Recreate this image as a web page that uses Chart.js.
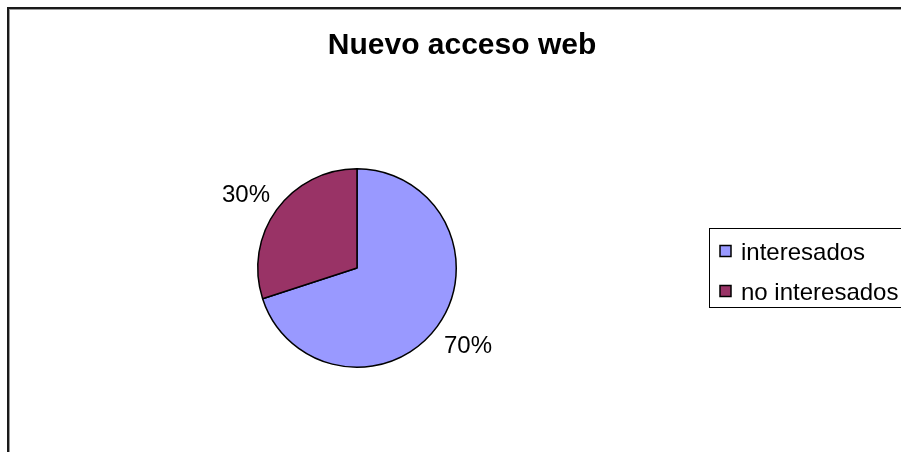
<!DOCTYPE html>
<html>
<head>
<meta charset="utf-8">
<title>Nuevo acceso web</title>
<script src="https://cdn.jsdelivr.net/npm/chart.js@4/dist/chart.umd.min.js"></script>
<style>
    html, body { margin: 0; padding: 0; background: #ffffff; }
    canvas { display: block; }
</style>
</head>
<body>
<canvas id="grafico" width="901" height="452"></canvas>
<script>
// datos de la encuesta
const categorias = ['interesados', 'no interesados'];
const valores = [70, 30];
const colores = ['#9999ff', '#993366'];
const titulo = 'Nuevo acceso web';

const fuente = '"Liberation Sans", Arial, sans-serif';

// marco exterior, título, porcentajes y leyenda con recuadro
const decoracion = {
    id: 'decoracion',
    beforeDraw(chart) {
        const ctx = chart.ctx;
        ctx.save();
        ctx.fillStyle = '#ffffff';
        ctx.fillRect(0, 0, chart.width, chart.height);
        ctx.strokeStyle = '#9a9a9a';
        ctx.lineWidth = 1;
        ctx.strokeRect(9.5, 9.5, 940, 500);
        ctx.strokeStyle = '#1a1a1a';
        ctx.lineWidth = 2;
        ctx.strokeRect(8, 8, 940, 500);
        ctx.restore();
    },
    afterDatasetsDraw(chart) {
        const ctx = chart.ctx;
        const meta = chart.getDatasetMeta(0);
        const total = valores.reduce((a, b) => a + b, 0);
        ctx.save();

        // título
        ctx.fillStyle = '#000000';
        ctx.font = 'bold 30px ' + fuente;
        ctx.textAlign = 'center';
        ctx.textBaseline = 'alphabetic';
        ctx.fillText(titulo, 462, 54);

        // porcentajes fuera de cada sector
        ctx.font = '24px ' + fuente;
        ctx.textBaseline = 'middle';
        meta.data.forEach((arco, i) => {
            const medio = (arco.startAngle + arco.endAngle) / 2;
            const x = arco.x + Math.cos(medio) * (arco.outerRadius + 38);
            const y = arco.y + Math.sin(medio) * (arco.outerRadius + 29);
            const pct = Math.round(valores[i] / total * 100);
            ctx.fillText(pct + '%', x, y + 3);
        });

        // leyenda
        ctx.strokeStyle = '#000000';
        ctx.lineWidth = 1;
        ctx.strokeRect(709.5, 228.5, 220, 79);
        ctx.textAlign = 'left';
        categorias.forEach((nombre, i) => {
            const y = 251.5 + i * 40;
            ctx.fillStyle = colores[i];
            ctx.fillRect(720, y - 6, 11, 11);
            ctx.strokeStyle = '#000000';
            ctx.lineWidth = 1.5;
            ctx.strokeRect(720, y - 6, 11, 11);
            ctx.fillStyle = '#000000';
            ctx.fillText(nombre, 741, y + 2);
        });
        ctx.restore();
    }
};

const ctx = document.getElementById('grafico').getContext('2d');
const grafico = new Chart(ctx, {
    type: 'pie',
    data: {
        labels: categorias,
        datasets: [{
            data: valores,
            backgroundColor: colores,
            borderColor: '#000000',
            borderWidth: 1.5
        }]
    },
    options: {
        responsive: false,
        animation: false,
        layout: {
            padding: { left: 257, right: 444, top: 168, bottom: 84 }
        },
        plugins: {
            legend: { display: false },
            title: { display: false },
            tooltip: { enabled: false }
        }
    },
    plugins: [decoracion]
});
</script>
</body>
</html>
